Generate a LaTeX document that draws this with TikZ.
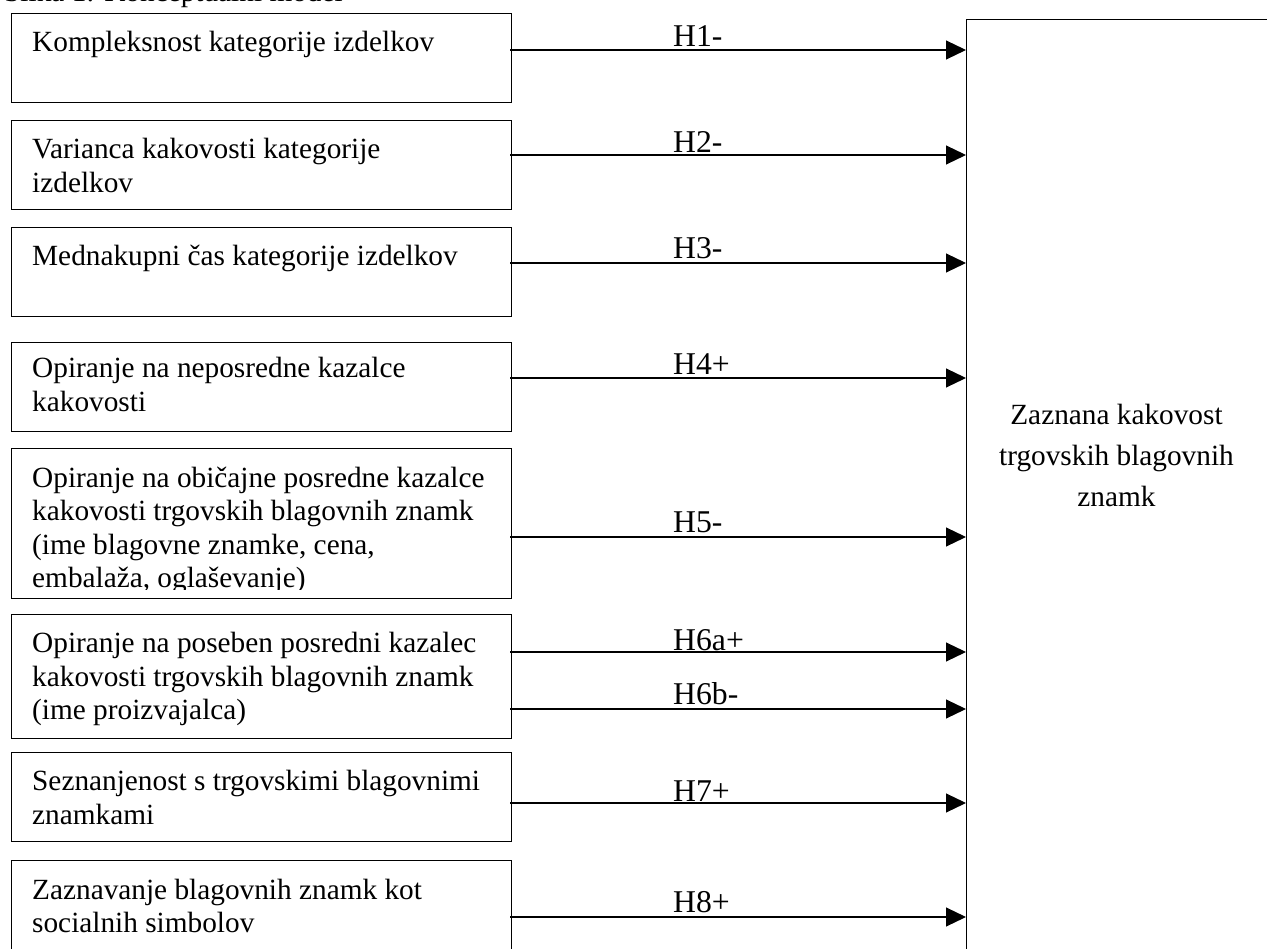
\documentclass[tikz,border=0pt]{standalone}
\usepackage{fontspec}
\setmainfont{Liberation Serif}
\usetikzlibrary{arrows.meta}

\begin{document}
\begin{tikzpicture}[x=1pt,y=-1pt,
    box/.style={draw,line width=1.3pt,anchor=north west,minimum width=500pt,inner sep=0pt},
    txt/.style={anchor=base west,align=left,inner sep=0pt,font=\fontsize{29.3}{33.5}\selectfont},
    lab/.style={anchor=base west,inner sep=0pt,font=\fontsize{31.7}{34}\selectfont},
    arr/.style={line width=1.1pt,-{Triangle[length=20pt,width=19pt]}}]
    \useasboundingbox (0,0) rectangle (1267,949);
    % caption, cut off by the page
    \node[txt] (cap) at (4,2) {Slika 1: Konceptualni model};

    % Left: factors (text nodes sit on their last line)
    \node[box,minimum height=89pt] (b1) at (10.5,13) {};
    \node[txt] (t1) at (32,52) {Kompleksnost kategorije izdelkov};
    \node[box,minimum height=89pt] (b2) at (10.5,120) {};
    \node[txt] (t2) at (32,192.5) {Varianca kakovosti kategorije\\izdelkov};
    \node[box,minimum height=89pt] (b3) at (10.5,227) {};
    \node[txt] (t3) at (32,266) {Mednakupni čas kategorije izdelkov};
    \node[box,minimum height=89pt] (b4) at (10.5,342) {};
    \node[txt] (t4) at (32,411.5) {Opiranje na neposredne kazalce\\kakovosti};
    \node[box,minimum height=150pt] (b5) at (10.5,448) {};
    \begin{scope}
      % text runs out of the frame
      \clip (b5.north west) rectangle (510,589.5);
      \node[txt] (t5) at (32,587.5) {Opiranje na običajne posredne kazalce\\kakovosti trgovskih blagovnih znamk\\(ime blagovne znamke, cena,\\embalaža, oglaševanje)};
    \end{scope}
    \node[box,minimum height=124pt] (b6) at (10.5,614) {};
    \node[txt] (t6) at (32,719.5) {Opiranje na poseben posredni kazalec\\kakovosti trgovskih blagovnih znamk\\(ime proizvajalca)};
    \node[box,minimum height=89pt] (b7) at (10.5,752) {};
    \node[txt] (t7) at (32,824) {Seznanjenost s trgovskimi blagovnimi\\znamkami};
    \node[box,minimum height=110pt] (b8) at (10.5,860) {};
    \node[txt] (t8) at (32,932.5) {Zaznavanje blagovnih znamk kot\\socialnih simbolov};

    % Right: outcome
    \node[box,minimum width=340pt,minimum height=960pt] (kzn) at (966,19) {};
    \node[anchor=base,align=center,inner sep=0pt,font=\fontsize{29.3}{41}\selectfont] (kzntxt) at (1116.5,507) {Zaznana kakovost\\trgovskih blagovnih\\znamk};

    % hypotheses
    \coordinate (h1) at (510,50);
    \coordinate (h2) at (510,155);
    \coordinate (h3) at (510,263);
    \coordinate (h4) at (510,378);
    \coordinate (h5) at (510,537);
    \coordinate (h6a) at (510,652);
    \coordinate (h6b) at (510,709);
    \coordinate (h7) at (510,803);
    \coordinate (h8) at (510,917);
    \draw[arr] (h1) -- (h1 -| kzn.west);
    \draw[arr] (h2) -- (h2 -| kzn.west);
    \draw[arr] (h3) -- (h3 -| kzn.west);
    \draw[arr] (h4) -- (h4 -| kzn.west);
    \draw[arr] (h5) -- (h5 -| kzn.west);
    \draw[arr] (h6a) -- (h6a -| kzn.west);
    \draw[arr] (h6b) -- (h6b -| kzn.west);
    \draw[arr] (h7) -- (h7 -| kzn.west);
    \draw[arr] (h8) -- (h8 -| kzn.west);
    \node[lab] (l1) at (673,47) {H1-};
    \node[lab] (l2) at (673,153) {H2-};
    \node[lab] (l3) at (673,259) {H3-};
    \node[lab] (l4) at (673,375) {H4+};
    \node[lab] (l5) at (673,532) {H5-};
    \node[lab] (l6a) at (673,650) {H6a+};
    \node[lab] (l6b) at (673,704) {H6b-};
    \node[lab] (l7) at (673,801) {H7+};
    \node[lab] (l8) at (673,912) {H8+};
\end{tikzpicture}
\end{document}
